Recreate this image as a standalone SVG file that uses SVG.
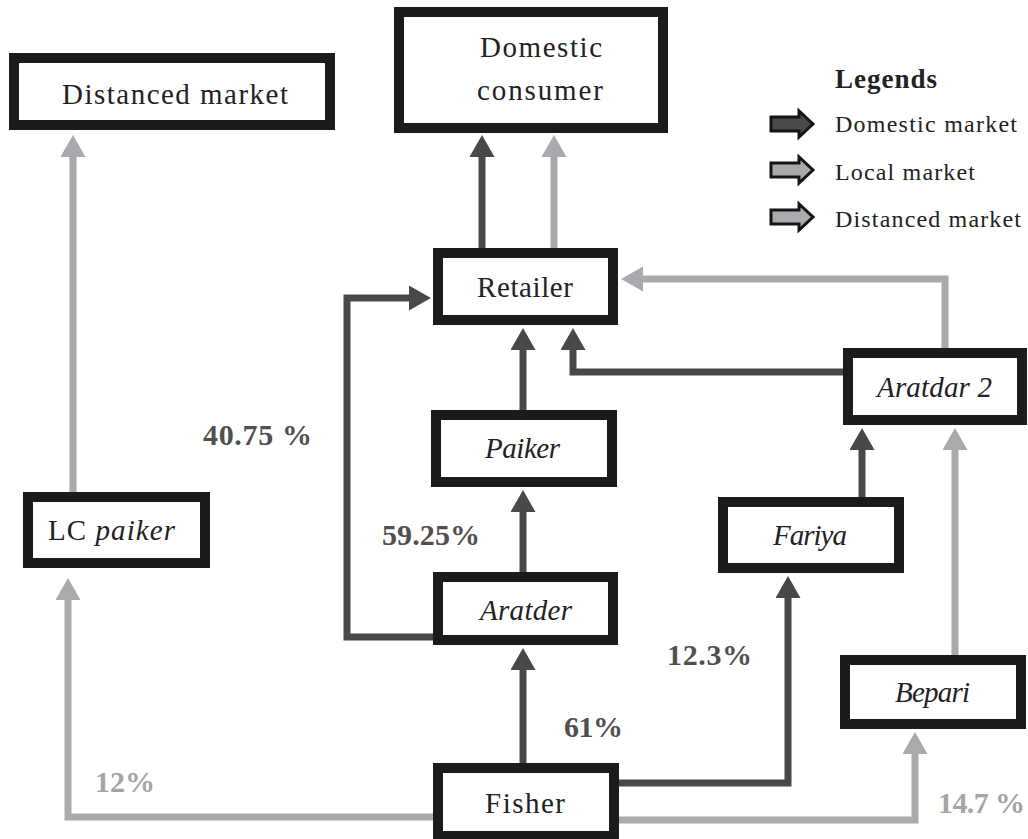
<svg xmlns="http://www.w3.org/2000/svg" width="1028" height="839" viewBox="0 0 1028 839">
<style>
.box{fill:#fff;stroke:#1c1a1b;stroke-width:10}
.t{font-family:"Liberation Serif",serif;font-size:29px;fill:#222}
.i{font-style:italic}
.dk{fill:none;stroke:#484848;stroke-width:7;stroke-linejoin:miter}
.lt{fill:none;stroke:#a9aaad;stroke-width:7;stroke-linejoin:miter}
.pd{font-family:"Liberation Serif",serif;font-weight:bold;font-size:30px;fill:#505050}
.pl{font-family:"Liberation Serif",serif;font-weight:bold;font-size:30px;fill:#a3a4a7}
.lg{font-family:"Liberation Serif",serif;font-size:24px;fill:#222}
.lh{font-family:"Liberation Serif",serif;font-size:27px;font-weight:bold;fill:#222}
.la{stroke:#151515;stroke-width:3;stroke-linejoin:miter}
</style>
<defs>
<marker id="ad" viewBox="0 0 22 25" refX="1" refY="12.5" markerWidth="22" markerHeight="25" markerUnits="userSpaceOnUse" orient="auto"><path d="M0,0 L22,12.5 L0,25 z" fill="#484848"/></marker>
<marker id="al" viewBox="0 0 22 25" refX="1" refY="12.5" markerWidth="22" markerHeight="25" markerUnits="userSpaceOnUse" orient="auto"><path d="M0,0 L22,12.5 L0,25 z" fill="#a9aaad"/></marker>
</defs>
<rect width="1028" height="839" fill="#fff"/>
<g id="connectors">
<path class="dk" d="M482,248 V156" marker-end="url(#ad)"/>
<path class="lt" d="M554,248 V156" marker-end="url(#al)"/>
<path class="dk" d="M523,410 V349" marker-end="url(#ad)"/>
<path class="dk" d="M523,572 V511" marker-end="url(#ad)"/>
<path class="dk" d="M523,763 V669" marker-end="url(#ad)"/>
<path class="dk" d="M433,637 H347 V298 H410" marker-end="url(#ad)"/>
<path class="dk" d="M843,372 H573 V349" marker-end="url(#ad)"/>
<path class="lt" d="M945,348 V279 H642" marker-end="url(#al)"/>
<path class="dk" d="M862,497 V449" marker-end="url(#ad)"/>
<path class="lt" d="M955,655 V449" marker-end="url(#al)"/>
<path class="dk" d="M619,783 H788 V597" marker-end="url(#ad)"/>
<path class="lt" d="M619,820 H915 V753" marker-end="url(#al)"/>
<path class="lt" d="M433,817 H68 V599" marker-end="url(#al)"/>
<path class="lt" d="M73,492 V156" marker-end="url(#al)"/>
</g>
<g id="distanced-market"><rect class="box" x="14" y="58" width="316" height="67"/><text class="t" x="62" y="104" textLength="226">Distanced market</text></g>
<g id="domestic-consumer"><rect class="box" x="399" y="12" width="264" height="116"/><text class="t" x="480" y="57" textLength="122">Domestic</text><text class="t" x="477" y="100" textLength="126">consumer</text></g>
<g id="retailer"><rect class="box" x="438" y="253" width="175" height="67"/><text class="t" x="477" y="297" textLength="96">Retailer</text></g>
<g id="paiker"><rect class="box" x="436" y="415" width="176" height="67"/><text class="t i" x="485" y="458" textLength="75">Paiker</text></g>
<g id="aratder"><rect class="box" x="438" y="577" width="175" height="63"/><text class="t i" x="480" y="620" textLength="92">Aratder</text></g>
<g id="fisher"><rect class="box" x="438" y="768" width="176" height="68"/><text class="t" x="485" y="813" textLength="80">Fisher</text></g>
<g id="aratdar2"><rect class="box" x="848" y="353" width="174" height="67"/><text class="t i" x="877" y="397" textLength="115">Aratdar 2</text></g>
<g id="fariya"><rect class="box" x="723" y="502" width="176" height="66"/><text class="t i" x="773" y="545" textLength="74">Fariya</text></g>
<g id="bepari"><rect class="box" x="845" y="660" width="176" height="64"/><text class="t i" x="895" y="702" textLength="75">Bepari</text></g>
<g id="lc-paiker"><rect class="box" x="28" y="497" width="177" height="66"/><text class="t" x="48" y="540" textLength="127">LC <tspan class="i">paiker</tspan></text></g>
<g id="labels">
<text class="pd" x="203" y="445" textLength="109">40.75 %</text>
<text class="pd" x="382" y="545" textLength="98">59.25%</text>
<text class="pd" x="564" y="737" textLength="59">61%</text>
<text class="pd" x="667" y="665" textLength="85">12.3%</text>
<text class="pl" x="95" y="792" textLength="60">12%</text>
<text class="pl" x="938" y="813" textLength="87">14.7 %</text>
</g>
<g id="legend">
<text class="lh" x="835" y="88" textLength="102">Legends</text>
<polygon class="la" fill="#4a4a4a" points="771,117 799,117 799,111 813,124 799,137 799,131 771,131"/>
<text class="lg" x="835" y="132" textLength="182">Domestic market</text>
<polygon class="la" fill="#a9aaad" points="771,163 799,163 799,157 813,170 799,183 799,177 771,177"/>
<text class="lg" x="835" y="180" textLength="140">Local market</text>
<polygon class="la" fill="#a9aaad" points="771,210 799,210 799,204 813,217 799,230 799,224 771,224"/>
<text class="lg" x="835" y="227" textLength="186">Distanced market</text>
</g>
</svg>
